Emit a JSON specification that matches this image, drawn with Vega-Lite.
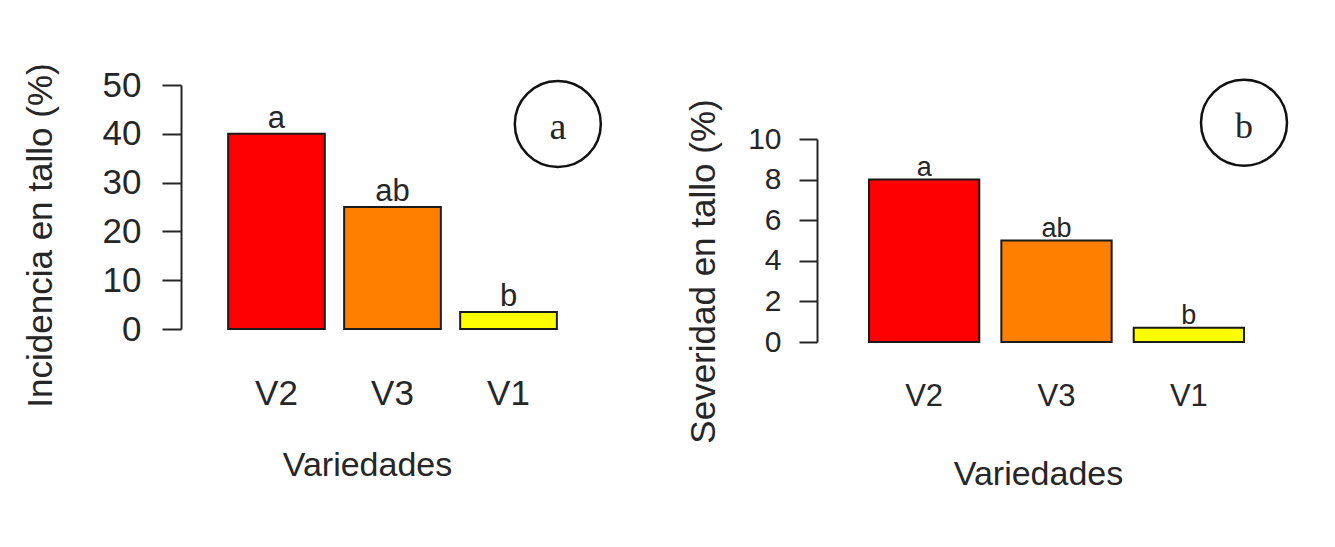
{
  "$schema": "https://vega.github.io/schema/vega-lite/v6.json",
  "padding": {"left": 23, "top": 62, "right": 0, "bottom": 0},
  "background": "white",
  "bounds": "flush",
  "spacing": 284,
  "config": {"view": {"stroke": null}, "font": "Liberation Sans", "text": {"font": "Liberation Sans"}},
  "datasets": {
    "inc": [
      {"variedad": "V2", "valor": 40, "letra": "a"},
      {"variedad": "V3", "valor": 25, "letra": "ab"},
      {"variedad": "V1", "valor": 3.5, "letra": "b"}
    ],
    "sev": [
      {"variedad": "V2", "valor": 8, "letra": "a"},
      {"variedad": "V3", "valor": 5, "letra": "ab"},
      {"variedad": "V1", "valor": 0.7, "letra": "b"}
    ],
    "panelA": [{"x": 3.61, "y": 42, "etiqueta": "a"}],
    "panelB": [{"x": 3.6, "y": 10.8, "etiqueta": "b"}]
  },
  "hconcat": [
    {
      "width": 355,
      "height": 244,
      "layer": [
        {
          "data": {"name": "inc"},
          "layer": [
            {
              "mark": {"type": "bar", "stroke": "#1a1a1a", "strokeWidth": 2},
              "encoding": {
                "color": {"field": "variedad", "type": "nominal", "scale": {"domain": ["V2", "V3", "V1"], "range": ["#ff0000", "#ff8000", "#ffff00"]}, "legend": null}
              }
            },
            {
              "mark": {"type": "text", "baseline": "alphabetic", "dy": -6, "fontSize": 31, "color": "#262626"},
              "encoding": {"text": {"field": "letra"}}
            }
          ],
          "encoding": {
            "x": {
              "field": "variedad", "type": "nominal", "sort": ["V2", "V3", "V1"],
              "scale": {"paddingInner": 0.1667, "paddingOuter": 0.1133},
              "title": "Variedades",
              "axis": {"domain": false, "ticks": false, "tickSize": 0, "labelAngle": 0, "labelFontSize": 35, "labelColor": "#262626", "labelPadding": 47, "titleFontSize": 34, "titleFontWeight": "normal", "titleColor": "#262626", "titlePadding": 37, "titleX": 152}
            },
            "y": {
              "field": "valor", "type": "quantitative",
              "scale": {"domain": [0, 50], "nice": false},
              "title": "Incidencia en tallo (%)",
              "axis": {"values": [0, 10, 20, 30, 40, 50], "grid": false, "offset": 34, "tickSize": 19, "tickWidth": 2, "tickColor": "#262626", "domainWidth": 2, "domainColor": "#262626", "labelFontSize": 35, "labelColor": "#262626", "labelPadding": 21, "titleFontSize": 35, "titleFontWeight": "normal", "titleColor": "#262626", "titlePadding": 44, "titleY": 150}
            }
          }
        },
        {
          "data": {"name": "panelA"},
          "layer": [
            {"mark": {"type": "point", "shape": "circle", "size": 7400, "filled": false, "stroke": "#111111", "strokeWidth": 2.5, "opacity": 1}},
            {"mark": {"type": "text", "font": "Liberation Serif", "fontSize": 38, "baseline": "middle", "dy": 4, "color": "#262626"}, "encoding": {"text": {"field": "etiqueta"}}}
          ],
          "encoding": {
            "x": {"field": "x", "type": "quantitative", "scale": {"domain": [0.064, 3.736], "nice": false, "zero": false}, "axis": null},
            "y": {"field": "y", "type": "quantitative"}
          }
        }
      ],
      "resolve": {"scale": {"x": "independent"}}
    },
    {
      "width": 405,
      "height": 257,
      "layer": [
        {
          "data": {"name": "sev"},
          "layer": [
            {
              "mark": {"type": "bar", "stroke": "#1a1a1a", "strokeWidth": 2},
              "encoding": {
                "color": {"field": "variedad", "type": "nominal", "scale": {"domain": ["V2", "V3", "V1"], "range": ["#ff0000", "#ff8000", "#ffff00"]}, "legend": null}
              }
            },
            {
              "mark": {"type": "text", "baseline": "alphabetic", "dy": -4, "fontSize": 27, "color": "#262626"},
              "encoding": {"text": {"field": "letra"}}
            }
          ],
          "encoding": {
            "x": {
              "field": "variedad", "type": "nominal", "sort": ["V2", "V3", "V1"],
              "scale": {"paddingInner": 0.1667, "paddingOuter": 0.1133},
              "title": "Variedades",
              "axis": {"domain": false, "ticks": false, "tickSize": 0, "labelAngle": 0, "labelFontSize": 31, "labelColor": "#262626", "labelPadding": 39, "titleFontSize": 34, "titleFontWeight": "normal", "titleColor": "#262626", "titlePadding": 46, "titleX": 184}
            },
            "y": {
              "field": "valor", "type": "quantitative",
              "scale": {"domain": [0, 10], "nice": false, "range": [257, 54]},
              "title": "Severidad en tallo (%)",
              "axis": {"values": [0, 2, 4, 6, 8, 10], "grid": false, "offset": 37, "tickSize": 18, "tickWidth": 2, "tickColor": "#262626", "domainWidth": 2, "domainColor": "#262626", "labelFontSize": 30, "labelColor": "#262626", "labelPadding": 18, "titleFontSize": 35, "titleFontWeight": "normal", "titleColor": "#262626", "titlePadding": 26, "titleY": 186}
            }
          }
        },
        {
          "data": {"name": "panelB"},
          "layer": [
            {"mark": {"type": "point", "shape": "circle", "size": 7400, "filled": false, "stroke": "#111111", "strokeWidth": 2.5, "opacity": 1}},
            {"mark": {"type": "text", "font": "Liberation Serif", "fontSize": 36, "baseline": "middle", "dy": 4, "color": "#262626"}, "encoding": {"text": {"field": "etiqueta"}}}
          ],
          "encoding": {
            "x": {"field": "x", "type": "quantitative", "scale": {"domain": [0.064, 3.736], "nice": false, "zero": false}, "axis": null},
            "y": {"field": "y", "type": "quantitative"}
          }
        }
      ],
      "resolve": {"scale": {"x": "independent"}}
    }
  ]
}
